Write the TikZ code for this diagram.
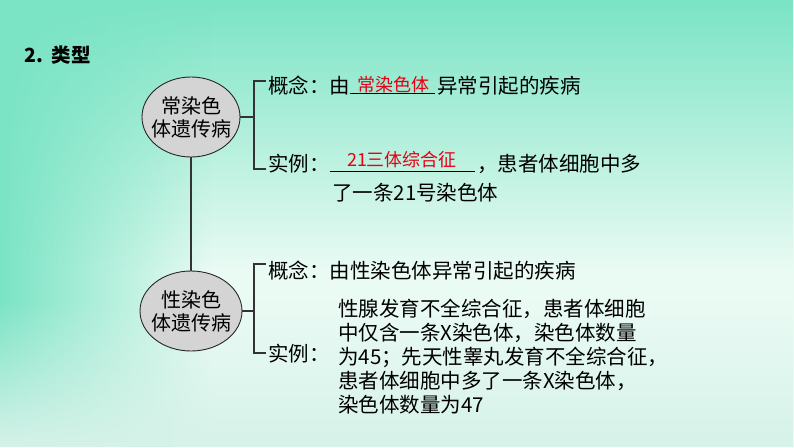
\documentclass[tikz,border=0pt]{standalone}
\usepackage{fontspec}
\setmainfont{Noto Sans CJK SC}
\usetikzlibrary{shapes.geometric,fadings}
\definecolor{bgteal}{RGB}{122,228,196}
\definecolor{bglight}{RGB}{234,251,244}
\definecolor{bgsea}{RGB}{214,242,233}
\definecolor{answerred}{RGB}{230,0,18}
\definecolor{blobgray}{RGB}{212,212,212}
\tikzset{
  disease/.style={ellipse, draw=black!85, fill=blobgray, line width=0.9pt, minimum width=98pt, minimum height=80pt, inner xsep=-12pt, inner ysep=-6pt, align=center, font=\fontsize{20}{23}\selectfont},
  txt/.style={anchor=base west, inner sep=0pt, font=\fontsize{20.5}{24}\selectfont},
  answer/.style={anchor=base, inner sep=0pt, text=answerred, font=\fontsize{18}{20}\selectfont},
  link/.style={draw=black!80, line width=1.3pt},
  uline/.style={draw=black, line width=0.9pt}
}
\begin{document}
\begin{tikzpicture}[x=1pt,y=-1pt]
    \useasboundingbox (0,0) rectangle (794,447);
    \fill[bglight] (0,0) rectangle (794,447);
    \fill[bgteal, path fading=south] (0,0) rectangle (794,270);
    \fill[bgteal, path fading=east] (0,0) rectangle (210,447);
    \fill[bgsea, path fading=north] (0,300) rectangle (794,447);
    \node[anchor=base west, inner sep=0pt, font=\fontsize{19.5}{22}\selectfont\bfseries] (title) at (24,62) {2.\hspace{9pt}类型};
    \node[disease] (auto) at (191,117) {常染色\\体遗传病};
    \node[disease, minimum width=102pt] (sexd) at (191,311) {性染色\\体遗传病};
    \draw[link] (auto.south) -- (sexd.north);
    \coordinate (k1) at (254,117);
    \coordinate (k1top) at (266,81);
    \coordinate (k1bot) at (266,169);
    \draw[link] (auto.east) -- (k1);
    \draw[link] (k1top) -| (k1) |- (k1bot);
    \node[txt] (c1) at (268,93) {概念：由};
    \draw[uline] (c1.base east) --++ (85,0) coordinate (u1);
    \node[answer] (a1) at (393,91) {常染色体};
    \node[txt] (c1r) at (437,93) {异常引起的疾病};
    \node[txt] (e1) at (268,171) {实例：};
    \draw[uline] (e1.base east) --++ (145,0) coordinate (u2);
    \node[answer] (a2) at (402,166) {21三体综合征};
    \node[txt] (e1r) at (477,171) {，患者体细胞中多};
    \node[txt] (e1n) at (332,200) {了一条21号染色体};
    \coordinate (k2) at (254,311);
    \coordinate (k2top) at (266,264);
    \coordinate (k2bot) at (266,353);
    \draw[link] (sexd.east) -- (k2);
    \draw[link] (k2top) -| (k2) |- (k2bot);
    \node[txt] (c2) at (268,278) {概念：由性染色体异常引起的疾病};
    \node[txt] (e2) at (268,361) {实例：};
    \node[txt, align=left] (e2r) at (338,412) {性腺发育不全综合征，患者体细胞\\中仅含一条X染色体，染色体数量\\为45；先天性睾丸发育不全综合征，\\患者体细胞中多了一条X染色体，\\染色体数量为47};
\end{tikzpicture}
\end{document}
